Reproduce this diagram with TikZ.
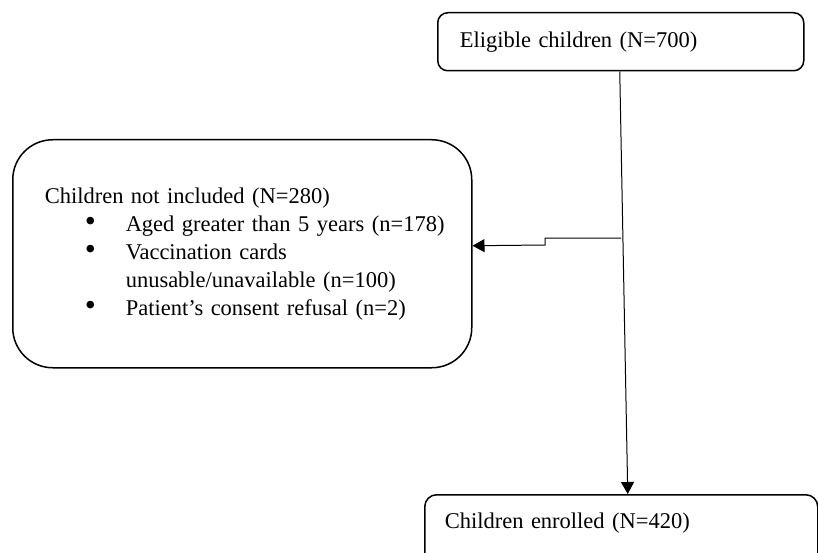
\documentclass[tikz,border=0pt]{standalone}
\usepackage{fontspec}
\setmainfont{Liberation Serif}
\usetikzlibrary{arrows.meta}
\newcommand{\bigdot}{\makebox[41pt][l]{\smash{\raisebox{-0.5pt}{\scalebox{1.4}{\textbullet}}}}}
\begin{document}
\begin{tikzpicture}[x=1pt,y=-1pt,
    box/.style={draw,line width=1.5pt,anchor=north west,align=left,
      font=\fontsize{22.5}{28}\selectfont},
    flow/.style={line width=1pt,-{Triangle[length=12pt,width=13pt]}}]
  \useasboundingbox (0,0) rectangle (818,553);
  \clip (0,0) rectangle (818,553);

  \node[box,rounded corners=10pt,inner xsep=22pt,text width=322pt,
        minimum height=58pt] (elig) at (437,12) {Eligible children (N=700)};

  \node[box,rounded corners=40pt,inner xsep=32pt,text width=395pt,
        minimum height=228pt] (excl) at (12,139)
    {\mbox{Children not included (N=280)}\\
     \mbox{\hspace*{40pt}\bigdot Aged greater than 5 years (n=178)}\\
     \mbox{\hspace*{40pt}\bigdot Vaccination cards}\\
     \mbox{\hspace*{81pt}unusable/unavailable (n=100)}\\
     \mbox{\hspace*{40pt}\bigdot Patient’s consent refusal (n=2)}};

  \node[box,rounded corners=12pt,inner xsep=20pt,text width=353pt,
        minimum height=70pt,text depth=19pt] (enrl) at (424,494)
    {Children enrolled (N=420)};

  \coordinate (split) at (621,238);

  \draw[flow] ([xshift=-1pt]elig.south) -- ([xshift=6.5pt]enrl.north);
  \draw[flow] (split) -- ++(-76,0) -- ++(0,7) -- ([yshift=8pt]excl.east);
\end{tikzpicture}
\end{document}
